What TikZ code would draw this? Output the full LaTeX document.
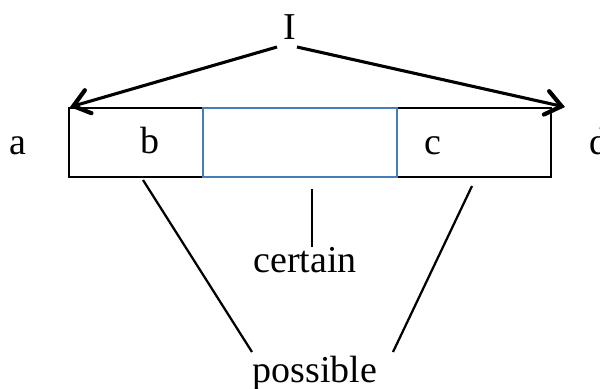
\documentclass[tikz,border=0pt]{standalone}
\usepackage{fontspec}
\setmainfont{Liberation Serif}
\usetikzlibrary{arrows.meta}
\definecolor{boxblue}{RGB}{70,125,185}
\tikzset{
    lbl/.style={anchor=base, inner sep=0pt, font=\fontsize{27}{32}\selectfont},
    pointer/.style={line width=2.2pt, -{Straight Barb[length=11pt,width=17pt,line cap=round,line width=3pt]}},
    leader/.style={line width=1.6pt}
}
\begin{document}
\begin{tikzpicture}[x=0.025cm, y=-0.025cm]
    \useasboundingbox (0,0) rectangle (600,389);

    % The bar with its corners
    \coordinate (tl) at (69,108);
    \coordinate (br) at (551,177);
    \draw[line width=1.6pt] (tl) rectangle (br);
    % The certain part inside the bar
    \coordinate (ctl) at (203,108);
    \coordinate (cbr) at (397,177);
    \draw[boxblue, line width=1.1pt] (ctl) rectangle (cbr);

    % Labels
    \node[lbl] (I) at (290,39) {I};
    \node[lbl] (a) at (18,154) {a};
    \node[lbl] (b) at (150,153) {b};
    \node[lbl] (c) at (433,154) {c};
    \node[lbl] (d) at (599,154) {d};
    \node[lbl] (certain) at (305,272) {certain};
    \node[lbl] (possible) at (315,382) {possible};

    % Arrows from I to both ends of the bar
    \coordinate (Il) at (277,47);
    \coordinate (Ir) at (297,47);
    \coordinate (lend) at (70,107);
    \coordinate (rend) at (565,107);
    \draw[pointer] (Il) -- (lend);
    \draw[pointer] (Ir) -- (rend);

    % Leader lines
    \coordinate (cm) at (312,189);
    \draw[leader] (cm) -- (certain.north -| cm);
    \coordinate (pl) at (143,180);
    \coordinate (pr) at (472,186);
    \draw[leader] (pl) -- (252,352);
    \draw[leader] (pr) -- (393,352);
\end{tikzpicture}
\end{document}
